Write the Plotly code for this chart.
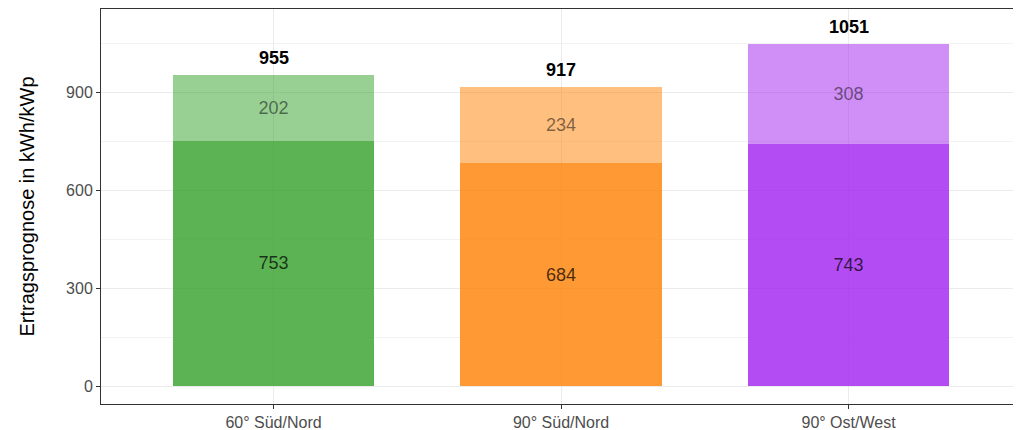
import plotly.graph_objects as go

categories = ["60° Süd/Nord", "90° Süd/Nord", "90° Ost/West"]
base_values = [753, 684, 743]
extra_values = [202, 234, 308]
totals = [955, 917, 1051]
base_colors = ["rgba(50,160,40,0.8)", "rgba(255,127,0,0.8)", "rgba(160,32,240,0.8)"]
extra_colors = ["rgba(50,160,40,0.5)", "rgba(255,127,0,0.5)", "rgba(160,32,240,0.5)"]

FONT = "Arial, Liberation Sans, sans-serif"

fig = go.Figure()
fig.add_trace(go.Bar(
    x=categories, y=base_values, marker=dict(color=base_colors, line=dict(width=0)),
    text=[str(v) for v in base_values], textposition="inside", insidetextanchor="middle",
    textangle=0, textfont=dict(family=FONT, size=18, color="rgba(0,0,0,0.72)"),
    width=0.7, showlegend=False, hoverinfo="skip"))
fig.add_trace(go.Bar(
    x=categories, y=extra_values, marker=dict(color=extra_colors, line=dict(width=0)),
    text=[str(v) for v in extra_values], textposition="inside", insidetextanchor="middle",
    textangle=0, textfont=dict(family=FONT, size=18, color="rgba(0,0,0,0.5)"),
    width=0.7, showlegend=False, hoverinfo="skip"))

for c, t in zip(categories, totals):
    fig.add_annotation(x=c, y=t, text=f"<b>{t}</b>", showarrow=False,
                       yanchor="bottom", yshift=5,
                       font=dict(family=FONT, size=18, color="black"))

fig.update_layout(
    barmode="stack", bargap=0.3,
    width=1005, height=422,
    margin=dict(l=93, r=0, t=1, b=26),
    plot_bgcolor="white", paper_bgcolor="white",
    font=dict(family=FONT),
)
fig.update_xaxes(
    range=[-0.6, 2.572], showgrid=True, gridcolor="#ebebeb", gridwidth=1,
    showline=True, linecolor="#333333", linewidth=1, mirror=True,
    ticks="outside", ticklen=4, tickcolor="#333333",
    tickfont=dict(family=FONT, size=16, color="#4d4d4d"), zeroline=False,
)
fig.update_yaxes(
    range=[-55, 1157], tickvals=[0, 300, 600, 900],
    showgrid=True, gridcolor="#ebebeb", gridwidth=1,
    minor=dict(tickvals=[150, 450, 750, 1050], showgrid=True, gridcolor="#f2f2f2", gridwidth=0.6),
    showline=True, linecolor="#333333", linewidth=1, mirror=False,
    ticks="outside", ticklen=4, tickcolor="#333333",
    tickfont=dict(family=FONT, size=16, color="#4d4d4d"), zeroline=False,
    title=dict(text="Ertragsprognose in kWh/kWp", font=dict(family=FONT, size=20, color="black"), standoff=26),
)

fig.write_html("out.html")
